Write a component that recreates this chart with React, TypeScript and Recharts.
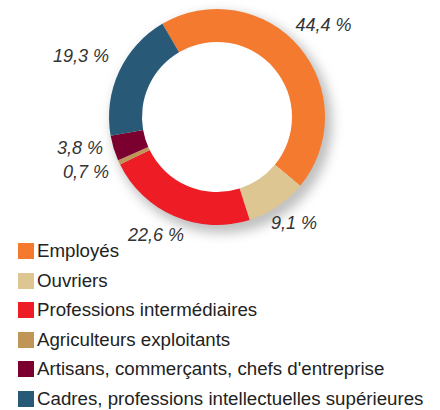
import React from 'react';
import { PieChart, Pie, Cell, Legend } from 'recharts';

const categories = [
  'Employés',
  'Ouvriers',
  'Professions intermédiaires',
  'Agriculteurs exploitants',
  "Artisans, commerçants, chefs d'entreprise",
  'Cadres, professions intellectuelles supérieures',
];
const values = [44.4, 9.1, 22.6, 0.7, 3.8, 19.3];
const colors = ['#F37A2F', '#DDC692', '#EE1C25', '#BF9558', '#7B0030', '#285A78'];

const data = categories.map((name, i) => ({ name, value: values[i] }));
const shadowData = [{ name: 'shadow', value: 1 }];

const FONT = '"Liberation Sans", Arial, Helvetica, sans-serif';
const RAD = Math.PI / 180;
const START = 120.4;

// label placement: ellipse around the pie, with simple vertical collision relaxation
const LABEL_DX = -4;
const LABEL_DY = -5;
const LABEL_RX_PAD = 37;
const LABEL_RY_PAD = 26;
const SIDE_PAD = 11;
const MIN_GAP = 24;

type LabelPos = { x: number; y: number; anchor: 'middle' | 'end' };

function labelOffsets(outerRadius: number): LabelPos[] {
  const total = values.reduce((a, b) => a + b, 0);
  let acc = 0;
  const pts = values.map((v, i) => {
    const mid = START - ((acc + v / 2) / total) * 360;
    acc += v;
    const c = Math.cos(mid * RAD);
    const s = Math.sin(mid * RAD);
    const rx = outerRadius + LABEL_RX_PAD;
    const ry = outerRadius + LABEL_RY_PAD;
    const side = c < -0.7;
    return {
      i,
      x: side ? (outerRadius + SIDE_PAD) * c - LABEL_DX : rx * c,
      y: -ry * s,
      dy: 0,
      anchor: (side ? 'end' : 'middle') as 'middle' | 'end',
    };
  });
  [true, false].forEach((right) => {
    const side = pts.filter((p) => (p.x >= 0) === right).sort((a, b) => a.y - b.y);
    for (let k = 1; k < side.length; k++) {
      const a = side[k - 1];
      const b = side[k];
      const gap = b.y + b.dy - (a.y + a.dy);
      if (gap < MIN_GAP) {
        const push = (MIN_GAP - gap) / 2;
        a.dy -= push;
        b.dy += push;
      }
    }
  });
  const out: LabelPos[] = [];
  pts.forEach((p) => {
    out[p.i] = { x: p.x, y: p.y + p.dy, anchor: p.anchor };
  });
  return out;
}

const renderLabel = (props: any) => {
  const { cx, cy, outerRadius, value, index } = props;
  const pos = labelOffsets(outerRadius)[index];
  return (
    <text
      x={cx + LABEL_DX + pos.x}
      y={cy + LABEL_DY + pos.y}
      textAnchor={pos.anchor}
      dominantBaseline="central"
      fill="#333"
      fontStyle="italic"
      fontSize={18}
      fontFamily={FONT}
    >
      {value.toFixed(1).replace('.', ',') + ' %'}
    </text>
  );
};

const renderLegend = () => (
  <div style={{ fontFamily: FONT, fontSize: 18.7, color: '#222', lineHeight: '20px' }}>
    {categories.map((c, i) => (
      <div
        key={c}
        style={{
          display: 'flex',
          alignItems: 'center',
          height: 20,
          marginBottom: i < categories.length - 1 ? 9.6 : 0,
          whiteSpace: 'nowrap',
        }}
      >
        <span
          style={{
            display: 'inline-block',
            width: 16,
            height: 16,
            background: colors[i],
            marginRight: 3,
            flex: '0 0 auto',
          }}
        />
        <span>{c}</span>
      </div>
    ))}
  </div>
);

export default function App() {
  return (
    <div style={{ position: 'absolute', left: 0, top: 0, width: 440, height: 410, background: '#fff' }}>
      <style>{`.shadow-pie .recharts-sector { filter: blur(6px); }`}</style>
      <PieChart width={440} height={410} margin={{ top: 0, right: 0, bottom: 0, left: 0 }}>
        <Pie
          className="shadow-pie"
          data={shadowData}
          dataKey="value"
          cx={222}
          cy={123}
          innerRadius={92}
          outerRadius={110}
          stroke="none"
          fill="rgba(0,0,0,0.26)"
          isAnimationActive={false}
          legendType="none"
        />
        <Pie
          data={data}
          dataKey="value"
          nameKey="name"
          cx={217}
          cy={117}
          innerRadius={75}
          outerRadius={108}
          startAngle={START}
          endAngle={START - 360}
          stroke="none"
          label={renderLabel}
          labelLine={false}
          isAnimationActive={false}
        >
          {data.map((d, i) => (
            <Cell key={d.name} fill={colors[i]} />
          ))}
        </Pie>
        <Legend
          content={renderLegend}
          layout="vertical"
          wrapperStyle={{ position: 'absolute', left: 18, top: 241, width: 422 }}
        />
      </PieChart>
    </div>
  );
}
